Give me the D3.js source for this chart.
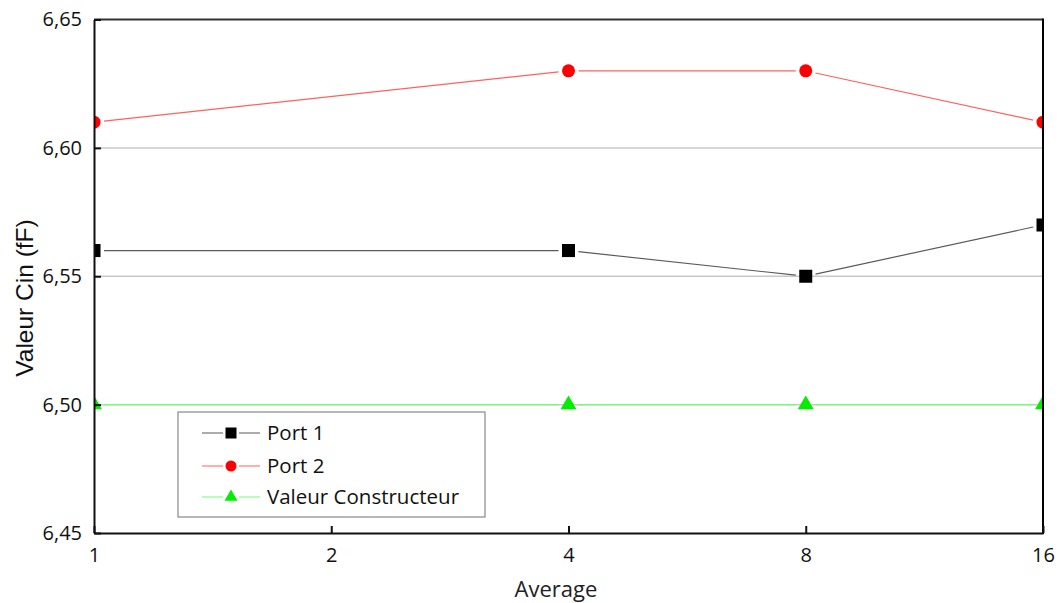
<!DOCTYPE html>
<html><head><meta charset="utf-8">
<script src="https://cdn.jsdelivr.net/npm/d3@7"></script>
<style>
html,body{margin:0;padding:0;background:#fff;}
svg{display:block;}
</style></head>
<body>
<svg id="chart" width="1059" height="603"></svg>
<script>
const xCategories = [1, 2, 4, 8, 16];
const xTickLabels = ["1", "2", "4", "8", "16"];
const yTicks = [6.45, 6.50, 6.55, 6.60, 6.65];
const yTickLabels = ["6,45", "6,50", "6,55", "6,60", "6,65"];
const averages = [1, 4, 8, 16];
const port1 = [6.56, 6.56, 6.55, 6.57];
const port2 = [6.61, 6.63, 6.63, 6.61];
const constructeur = [6.50, 6.50, 6.50, 6.50];
const seriesNames = ["Port 1", "Port 2", "Valeur Constructeur"];

const tickFont = "'Open Sans', sans-serif";
const svg = d3.select("#chart");
const L = 94, R = 1043, T = 19.5, B = 533;

const x = d3.scaleLog().base(2).domain([1, 16]).range([L, R]);
const y = d3.scaleLinear().domain([6.45, 6.65]).range([B, T]);

const series = [
  {name: seriesNames[0], values: port1, line: "#5a5a5a", fill: "#000000", shape: "square"},
  {name: seriesNames[1], values: port2, line: "#ff6060", fill: "#ff0000", shape: "circle"},
  {name: seriesNames[2], values: constructeur, line: "#70ff70", fill: "#00ee00", shape: "triangle"}
];

// gridlines
svg.append("g").selectAll("line").data([6.50, 6.55, 6.60]).join("line")
  .attr("x1", L).attr("x2", R).attr("y1", d => y(d)).attr("y2", d => y(d))
  .attr("stroke", "#c8c8c8").attr("stroke-width", 1.5);

svg.append("defs").append("clipPath").attr("id", "clip")
  .append("rect").attr("x", L).attr("y", T).attr("width", R - L).attr("height", B - T);

const plot = svg.append("g").attr("clip-path", "url(#clip)");

function markerPath(shape, size) {
  if (shape === "square") return d3.symbol(d3.symbolSquare, size * size)();
  if (shape === "circle") return d3.symbol(d3.symbolCircle, Math.PI * (size/2) * (size/2))();
  return d3.symbol(d3.symbolTriangle, Math.sqrt(3) / 4 * size * size)();
}
const markerSize = {square: 13, circle: 13, triangle: 16};

const gap = 10;
series.forEach(s => {
  const pts = averages.map((a, i) => [x(a), y(s.values[i])]);
  for (let i = 0; i < pts.length - 1; i++) {
    const [x1, y1] = pts[i], [x2, y2] = pts[i + 1];
    const len = Math.hypot(x2 - x1, y2 - y1);
    const ux = (x2 - x1) / len, uy = (y2 - y1) / len;
    plot.append("line")
      .attr("x1", x1 + ux * gap).attr("y1", y1 + uy * gap)
      .attr("x2", x2 - ux * gap).attr("y2", y2 - uy * gap)
      .attr("stroke", s.line).attr("stroke-width", 1.2);
  }
  plot.selectAll(null).data(pts).join("path")
    .attr("d", markerPath(s.shape, markerSize[s.shape]))
    .attr("transform", d => `translate(${d[0]},${d[1]})`)
    .attr("fill", s.fill);
});

// frame
svg.append("line").attr("x1", L).attr("x2", R).attr("y1", T).attr("y2", T).attr("stroke", "#333").attr("stroke-width", 2);
svg.append("line").attr("x1", R).attr("x2", R).attr("y1", T - 1).attr("y2", B + 1).attr("stroke", "#000").attr("stroke-width", 2);

// axes
const xAxis = d3.axisBottom(x).tickValues(xCategories)
  .tickFormat((d, i) => xTickLabels[i]).tickSizeInner(-7).tickSizeOuter(0).tickPadding(14);
const gx = svg.append("g").attr("transform", `translate(0,${B})`).call(xAxis);
const yAxis = d3.axisLeft(y).tickValues(yTicks)
  .tickFormat((d, i) => yTickLabels[i]).tickSizeInner(-7).tickSizeOuter(0).tickPadding(12);
const gy = svg.append("g").attr("transform", `translate(${L},0)`).call(yAxis);
[gx, gy].forEach(g => {
  g.select(".domain").attr("stroke", "#111").attr("stroke-width", 2);
  g.selectAll(".tick line").attr("stroke", "#111").attr("stroke-width", 2);
  g.selectAll(".tick text").attr("font-family", tickFont).attr("font-size", 20).attr("fill", "#111");
});
gx.selectAll(".tick text").attr("y", 29).attr("dy", 0);

// axis titles
svg.append("text").attr("x", 556).attr("y", 597).attr("text-anchor", "middle")
  .attr("font-family", tickFont).attr("font-size", 22).attr("fill", "#222").text("Average");
svg.append("text").attr("transform", "translate(33,298) rotate(-90)").attr("text-anchor", "middle")
  .attr("font-family", "'Liberation Sans', Arial, sans-serif").attr("font-size", 24.5).attr("fill", "#111")
  .text("Valeur Cin (fF)");

// legend
const lg = svg.append("g");
lg.append("rect").attr("x", 178).attr("y", 412).attr("width", 307).attr("height", 105)
  .attr("fill", "#fff").attr("stroke", "#888").attr("stroke-width", 1.2);
const rowY = [433, 466, 497];
series.forEach((s, i) => {
  const ry = rowY[i];
  lg.append("line").attr("x1", 202).attr("x2", 260).attr("y1", ry).attr("y2", ry)
    .attr("stroke", s.line).attr("stroke-width", 1.2);
  lg.append("rect").attr("x", 223).attr("y", ry - 7).attr("width", 16).attr("height", 14).attr("fill", "#fff");
  lg.append("path").attr("d", markerPath(s.shape, s.shape === "triangle" ? 13 : 11))
    .attr("transform", `translate(231,${ry})`).attr("fill", s.fill);
  lg.append("text").attr("x", 267).attr("y", ry).attr("dy", "0.36em")
    .attr("font-family", tickFont).attr("font-size", 20.5).attr("fill", "#111").text(s.name);
});
</script>
</body></html>
